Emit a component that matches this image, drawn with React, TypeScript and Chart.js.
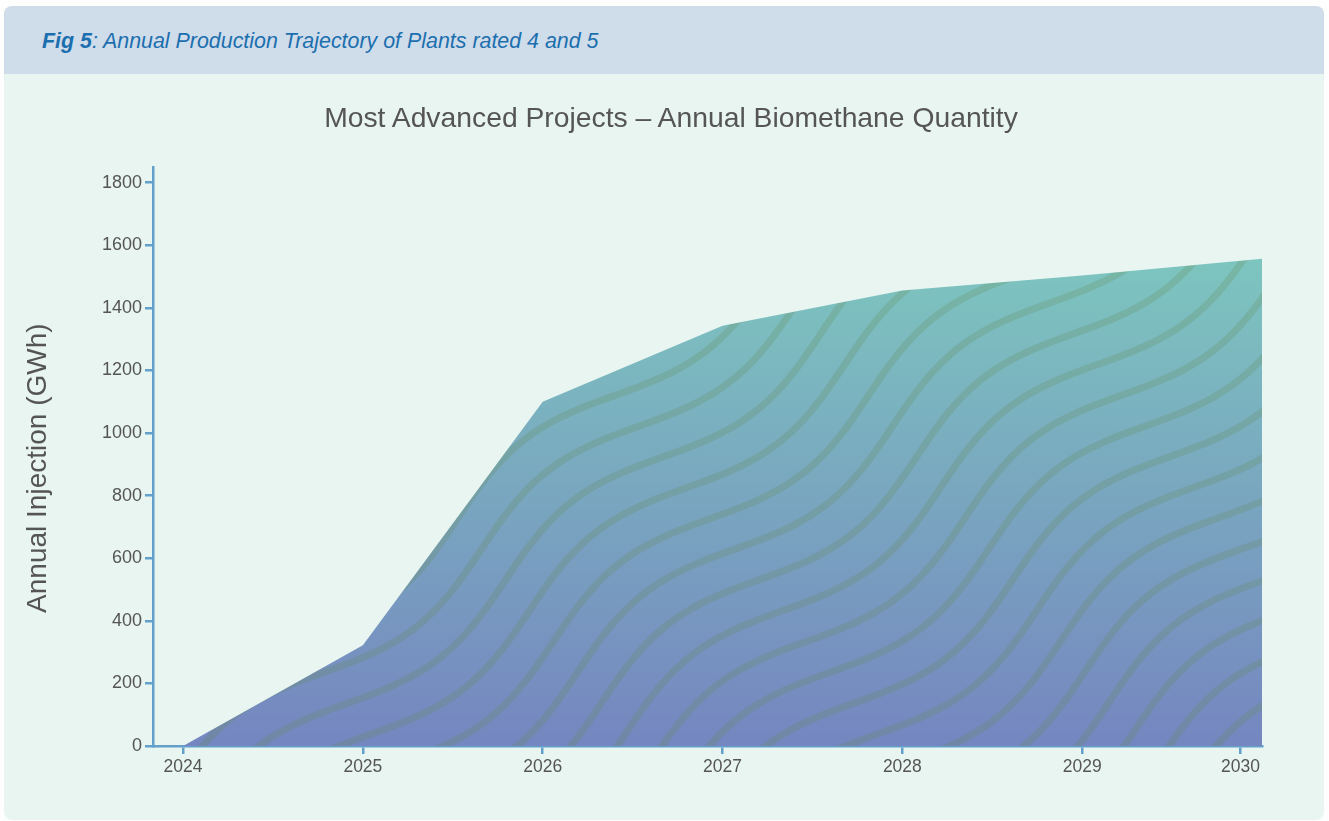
import React, { useEffect, useRef } from "react";
import { Chart, registerables } from "chart.js";

Chart.register(...registerables);

// ---------- data ----------
const YEARS = [2024, 2025, 2026, 2027, 2028, 2029, 2030];
const INJECTION_GWH = [0, 322, 1100, 1343, 1455, 1503, 1557];
const Y_TICKS = [0, 200, 400, 600, 800, 1000, 1200, 1400, 1600, 1800];
const X_TICK_POSITIONS = [2024, 2025, 2026, 2027, 2028, 2029, 2029.88];
const X_TICK_LABELS = ["2024", "2025", "2026", "2027", "2028", "2029", "2030"];

const HEADER_BOLD = "Fig 5";
const HEADER_TEXT = ": Annual Production Trajectory of Plants rated 4 and 5";
const CHART_TITLE = "Most Advanced Projects \u2013 Annual Biomethane Quantity";
const Y_TITLE = "Annual Injection (GWh)   ";

// ---------- style ----------
const AXIS_BLUE = "#63a0cc";
const TEXT_GREY = "#555555";
const FILL_TOP = "#7dc5bf";
const FILL_BOTTOM = "#7586c0";
const WAVE_COLOR = "rgba(100,140,85,0.24)";
const SANS = "'Liberation Sans', Arial, Helvetica, sans-serif";

let textureCache: { key: string; pattern: CanvasPattern | null } = { key: "", pattern: null };

function buildTexture(chart: any) {
  const area = chart.chartArea;
  if (!area) return "#78a6c4";
  const w = chart.width;
  const h = chart.height;
  const key = `${w}x${h}x${area.left}x${area.top}x${area.bottom}`;
  if (textureCache.key === key && textureCache.pattern) return textureCache.pattern;
  const off = document.createElement("canvas");
  off.width = w;
  off.height = h;
  const g = off.getContext("2d")!;
  const yTop = chart.scales.y.getPixelForValue(Math.max(...INJECTION_GWH));
  const grad = g.createLinearGradient(0, yTop, 0, area.bottom);
  grad.addColorStop(0, FILL_TOP);
  grad.addColorStop(1, FILL_BOTTOM);
  g.fillStyle = grad;
  g.fillRect(0, 0, w, h);

  // wavy texture (rotated sine lines)
  const theta = (38 * Math.PI) / 180;
  const ux = Math.cos(theta), uy = -Math.sin(theta);
  const vx = Math.sin(theta), vy = Math.cos(theta);
  const ox = area.left, oy = area.bottom;
  const A = 21, P = 400, D = 39, t0 = 180, w0 = 8.2;
  g.strokeStyle = WAVE_COLOR;
  g.lineWidth = 7;
  g.lineCap = "round";
  g.lineJoin = "round";
  for (let n = -22; n <= 26; n++) {
    const base = w0 + n * D;
    g.beginPath();
    for (let t = -400; t <= 1800; t += 3) {
      const s = base + A * Math.sin((2 * Math.PI * (t - t0)) / P);
      const x = ox + t * ux + s * vx;
      const y = oy + t * uy + s * vy;
      if (t === -400) g.moveTo(x, y);
      else g.lineTo(x, y);
    }
    g.stroke();
  }
  const pattern = chart.ctx.createPattern(off, "no-repeat");
  textureCache = { key, pattern };
  return pattern;
}

function BiomethaneChart() {
  const ref = useRef<HTMLCanvasElement | null>(null);
  useEffect(() => {
    if (!ref.current) return;
    const chart = new Chart(ref.current, {
      type: "line",
      data: {
        datasets: [
          {
            data: YEARS.map((x, i) => ({ x, y: INJECTION_GWH[i] })),
            fill: "origin",
            backgroundColor: (c: any) => buildTexture(c.chart),
            borderWidth: 0,
            borderColor: "rgba(0,0,0,0)",
            pointRadius: 0,
            tension: 0,
          },
        ],
      },
      options: {
        responsive: false,
        maintainAspectRatio: false,
        animation: false,
        layout: { padding: { left: 0, right: 62, top: 93, bottom: 30 } },
        plugins: {
          legend: { display: false },
          tooltip: { enabled: false },
          title: { display: false },
        },
        scales: {
          x: {
            type: "linear",
            min: 2023.833,
            max: 2030,
            afterBuildTicks: (s: any) => {
              s.ticks = X_TICK_POSITIONS.map((v) => ({ value: v }));
            },
            afterFit: (s: any) => {
              s.height = 44;
            },
            ticks: {
              autoSkip: false,
              maxRotation: 0,
              color: TEXT_GREY,
              padding: 3,
              font: { family: SANS, size: 17.5 },
              callback: (_v: any, i: number) => X_TICK_LABELS[i],
            },
            grid: { drawOnChartArea: false, tickLength: 8, color: AXIS_BLUE, lineWidth: 2.5 },
            border: { color: AXIS_BLUE, width: 2.5 },
          },
          y: {
            min: 0,
            max: 1850,
            afterBuildTicks: (s: any) => {
              s.ticks = Y_TICKS.map((v) => ({ value: v }));
            },
            afterFit: (s: any) => {
              s.width = 149;
            },
            ticks: {
              color: TEXT_GREY,
              padding: 3,
              font: { family: SANS, size: 18 },
              callback: (v: any) => String(v),
            },
            grid: { drawOnChartArea: false, tickLength: 8, color: AXIS_BLUE, lineWidth: 2.5 },
            border: { color: AXIS_BLUE, width: 2.5 },
            title: {
              display: true,
              text: Y_TITLE,
              color: TEXT_GREY,
              font: { family: SANS, size: 28, weight: "normal" },
              padding: { top: 17, bottom: 0 },
            },
          },
        },
      } as any,
    });
    return () => chart.destroy();
  }, []);
  return <canvas ref={ref} width={1320} height={746} style={{ display: "block", width: 1320, height: 746 }} />;
}

export default function App() {
  return (
    <div style={{ position: "absolute", left: 0, top: 0, width: 1329, height: 821, background: "#ffffff" }}>
      <div
        style={{
          position: "absolute",
          left: 4,
          top: 6,
          width: 1320,
          height: 814,
          borderRadius: 8,
          overflow: "hidden",
          background: "#e8f5f0",
        }}
      >
        <div style={{ position: "absolute", left: 0, top: 0, width: 1320, height: 68, background: "#cfdcea" }}>
          <div
            style={{
              position: "absolute",
              left: 38,
              top: 23,
              fontFamily: SANS,
              fontStyle: "italic",
              fontSize: 21.4,
              lineHeight: "24px",
              color: "#1c6fae",
              whiteSpace: "nowrap",
            }}
          >
            <span style={{ fontWeight: "bold" }}>{HEADER_BOLD}</span>
            {HEADER_TEXT}
          </div>
        </div>
        <div style={{ position: "absolute", left: 0, top: 68 }}>
          <BiomethaneChart />
        </div>
        <div
          style={{
            position: "absolute",
            left: 0,
            top: 95,
            width: 1334,
            textAlign: "center",
            fontFamily: SANS,
            fontSize: 28.3,
            lineHeight: "32px",
            color: TEXT_GREY,
            whiteSpace: "nowrap",
            pointerEvents: "none",
          }}
        >
          {CHART_TITLE}
        </div>
      </div>
    </div>
  );
}
